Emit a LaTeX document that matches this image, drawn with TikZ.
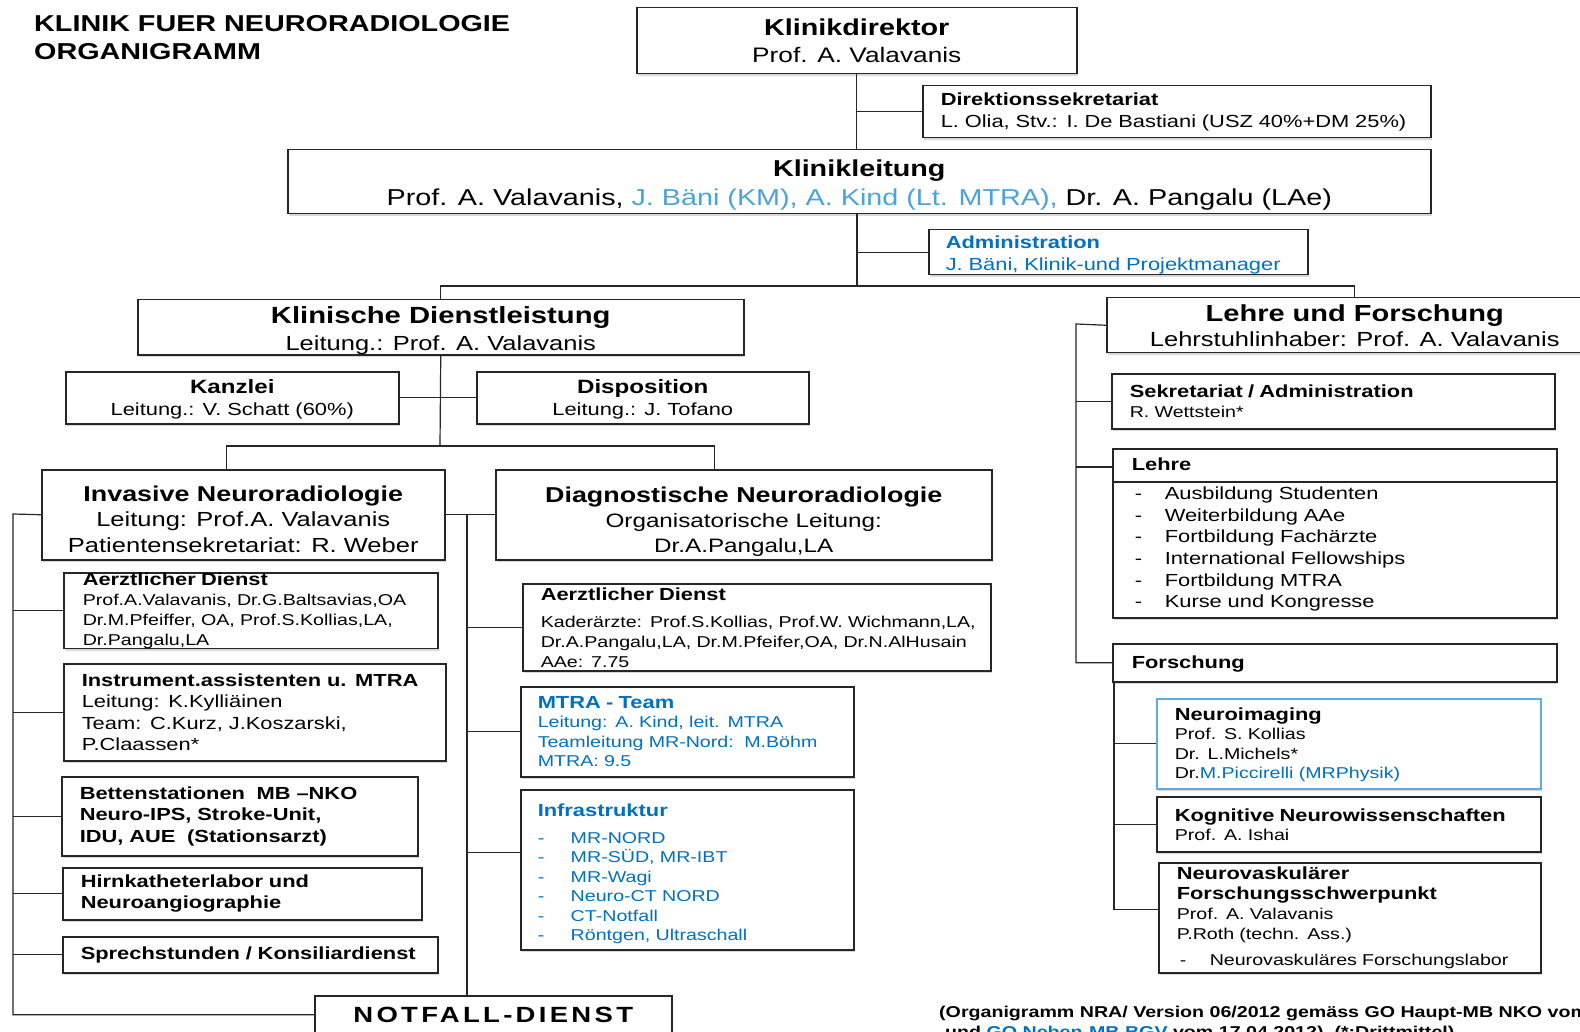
\documentclass[tikz,border=0pt]{standalone}
\usepackage{fontspec}
\setmainfont{Liberation Sans}[FakeStretch=1.25]
\usepackage{tikz}
\usetikzlibrary{calc}
\usetikzlibrary{positioning}
\usetikzlibrary{shadows}
\definecolor{lblue}{RGB}{74,163,217}
\definecolor{dblue}{RGB}{0,112,192}
\definecolor{iframe}{RGB}{96,172,222}
\definecolor{frame}{RGB}{38,38,38}
\newcommand{\dash}[1]{\makebox[#1][l]{-}}
\newcommand{\hstrut}[1]{\rule{0pt}{#1pt}}
\tikzstyle{box} = [rectangle, draw=frame, line width=1.5pt, fill=white, anchor=north west, inner sep=0pt, drop shadow={shadow xshift=1.5pt, shadow yshift=-2.5pt, opacity=0.3}]
\tikzstyle{cbox} = [box, align=center]
\tikzstyle{lbox} = [box, align=left]
\tikzstyle{line} = [line width=1.2pt, draw=black!85]
\tikzset{wh/.style 2 args={minimum width=#1pt, minimum height=#2pt}}

\begin{document}
\begin{tikzpicture}[x=1pt, y=-1pt]
\useasboundingbox (0,0) rectangle (1580,1032);
\clip (0,0) rectangle (1580,1032);
\fill[white] (0,0) rectangle (1580,1032);

\node (title) [anchor=base west, align=left, inner sep=0pt, font=\bfseries\fontsize{23}{28}\selectfont] at (34,60) {KLINIK FUER NEURORADIOLOGIE\\ORGANIGRAMM};

% Leitung
\node (kdir) [cbox, wh={440}{66}, font=\fontsize{21}{27}\selectfont] at (636,7) {{\bfseries\fontsize{23}{27}\selectfont Klinikdirektor}\\Prof. A. Valavanis};
\node (dsek) [lbox, wh={508}{52}, text width=472pt, font=\fontsize{17.5}{22}\selectfont] at (922,85) {{\bfseries Direktionssekretariat}\\\mbox{L. Olia, Stv.: I. De Bastiani (USZ 40\%+DM 25\%)}};
\node (kleit) [cbox, wh={1143}{64}, font=\fontsize{23}{29}\selectfont] at (287,149) {{\bfseries\hstrut{23}Klinikleitung}\\Prof. A. Valavanis, \textcolor{lblue}{J. Bäni (KM), A. Kind (Lt. MTRA),} Dr. A. Pangalu (LAe)};
\node (admin) [lbox, wh={379}{45}, text width=345pt, text=dblue, font=\fontsize{17.5}{22}\selectfont] at (928,229) {{\bfseries\hstrut{19}Administration}\\J. Bäni, Klinik-und Projektmanager};

\node (kd) [cbox, wh={606}{55}, font=\fontsize{20.4}{27}\selectfont] at (137,299) {{\bfseries\fontsize{23.4}{27}\selectfont\hstrut{24}Klinische Dienstleistung}\\Leitung.: Prof. A. Valavanis};
\node (luf) [cbox, wh={496}{55}, font=\fontsize{20.4}{25}\selectfont] at (1106,297) {{\bfseries\fontsize{23.2}{25}\selectfont Lehre und Forschung}\\Lehrstuhlinhaber: Prof. A. Valavanis};

% Klinische Dienstleistung
\node (kanz) [cbox, wh={333}{52}, font=\fontsize{17.5}{22}\selectfont] at (65,371) {{\bfseries\fontsize{19.3}{22}\selectfont\hstrut{18}Kanzlei}\\Leitung.: V. Schatt (60\%)};
\node (disp) [cbox, wh={332}{52}, font=\fontsize{17.5}{22}\selectfont] at (476,371) {{\bfseries\fontsize{19.3}{22}\selectfont\hstrut{18}Disposition}\\Leitung.: J. Tofano};
\node (inv) [cbox, wh={403}{90}, font=\fontsize{20.4}{25.5}\selectfont] at (41,469) {{\bfseries\fontsize{21.5}{25.5}\selectfont\hstrut{24}Invasive Neuroradiologie}\\Leitung: Prof.A. Valavanis\\Patientensekretariat: R. Weber};
\node (diag) [cbox, wh={496}{90}, font=\fontsize{19.4}{25}\selectfont] at (495,469) {{\bfseries\fontsize{21.5}{25}\selectfont\hstrut{29}Diagnostische Neuroradiologie}\\Organisatorische Leitung:\\Dr.A.Pangalu,LA};

\node (adL) [lbox, wh={374}{75}, text width=336pt, font=\fontsize{15.7}{20}\selectfont] at (63,572) {{\bfseries\fontsize{17.5}{20}\selectfont Aerztlicher Dienst}\\\mbox{Prof.A.Valavanis, Dr.G.Baltsavias,OA}\\\mbox{Dr.M.Pfeiffer, OA, Prof.S.Kollias,LA,}\\Dr.Pangalu,LA};
\node (instr) [lbox, wh={382}{97}, text width=346pt, font=\fontsize{17.5}{21.5}\selectfont] at (63,663) {{\bfseries Instrument.assistenten u. MTRA}\\Leitung: K.Kylliäinen\\Team: C.Kurz, J.Koszarski,\\P.Claassen*};
\node (bett) [lbox, wh={356}{79}, text width=320pt, font=\bfseries\fontsize{17.5}{21.5}\selectfont] at (61,776) {Bettenstationen\ \ MB –NKO\\Neuro-IPS, Stroke-Unit,\\IDU, AUE\ \ (Stationsarzt)};
\node (hirn) [lbox, wh={359}{52}, text width=323pt, font=\bfseries\fontsize{17.5}{21}\selectfont] at (62,867) {Hirnkatheterlabor und\\Neuroangiographie};
\node (sprech) [lbox, wh={375}{36}, text width=339pt, font=\bfseries\fontsize{17.5}{21}\selectfont] at (62,936) {Sprechstunden / Konsiliardienst};
\node (nf) [cbox, wh={357}{38}, font=\bfseries\fontsize{22}{24}\selectfont] at (314,995) {\addfontfeature{LetterSpace=15}NOTFALL-DIENST};

\node (adD) [lbox, wh={468}{87}, text width=432pt, font=\fontsize{15.7}{20}\selectfont] at (522,583) {{\bfseries\fontsize{17.5}{20}\selectfont Aerztlicher Dienst}\\[7pt]\mbox{Kaderärzte: Prof.S.Kollias, Prof.W. Wichmann,LA,}\\\mbox{Dr.A.Pangalu,LA, Dr.M.Pfeifer,OA, Dr.N.AlHusain}\\AAe: 7.75};
\node (mtra) [lbox, wh={333}{90}, text width=299pt, text=dblue, font=\fontsize{15.7}{19.5}\selectfont] at (520,686) {{\bfseries\fontsize{17.5}{19.5}\selectfont MTRA - Team}\\Leitung: A. Kind, leit. MTRA\\Teamleitung MR-Nord:\ \ M.Böhm\\MTRA: 9.5};
\node (infra) [lbox, wh={333}{160}, text width=299pt, text=dblue, font=\fontsize{15.7}{19.5}\selectfont] at (520,789) {{\bfseries\fontsize{17.5}{19.5}\selectfont\hstrut{21}Infrastruktur}\\[7pt]\dash{33pt}MR-NORD\\\dash{33pt}MR-SÜD, MR-IBT\\\dash{33pt}MR-Wagi\\\dash{33pt}Neuro-CT NORD\\\dash{33pt}CT-Notfall\\\dash{33pt}Röntgen, Ultraschall};

% Lehre und Forschung
\node (sek) [lbox, wh={443}{55}, text width=407pt, font=\fontsize{15.7}{20}\selectfont] at (1111,373) {{\bfseries\fontsize{17.5}{20}\selectfont Sekretariat / Administration}\\R. Wettstein*};
\node (lehre) [lbox, wh={444}{169}, text width=406pt, font=\fontsize{17.5}{21.6}\selectfont] at (1112,448) {{\bfseries\hstrut{15}Lehre}\\[8pt]\hspace*{3pt}\dash{30pt}Ausbildung Studenten\\\hspace*{3pt}\dash{30pt}Weiterbildung AAe\\\hspace*{3pt}\dash{30pt}Fortbildung Fachärzte\\\hspace*{3pt}\dash{30pt}International Fellowships\\\hspace*{3pt}\dash{30pt}Fortbildung MTRA\\\hspace*{3pt}\dash{30pt}Kurse und Kongresse};
\node (forsch) [lbox, wh={444}{38}, text width=406pt, font=\bfseries\fontsize{17.5}{21}\selectfont] at (1112,643) {\hstrut{15}Forschung};
\node (nimg) [lbox, draw=iframe, wh={384}{90}, text width=348pt, font=\fontsize{15.7}{19.5}\selectfont] at (1156,698) {{\bfseries\fontsize{17.5}{19.5}\selectfont\hstrut{15}Neuroimaging}\\Prof. S. Kollias\\Dr. L.Michels*\\Dr.\textcolor{dblue}{M.Piccirelli (MRPhysik)}};
\node (kogn) [lbox, wh={384}{55}, text width=348pt, font=\fontsize{15.7}{19}\selectfont] at (1156,796) {{\bfseries\fontsize{17.5}{19}\selectfont Kognitive Neurowissenschaften}\\Prof. A. Ishai};
\node (nvask) [lbox, wh={382}{110}, text width=346pt, font=\fontsize{15.7}{20}\selectfont] at (1158,862) {{\bfseries\fontsize{17.5}{20}\selectfont Neurovaskulärer}\\{\bfseries\fontsize{17.5}{20}\selectfont Forschungsschwerpunkt}\\Prof. A. Valavanis\\P.Roth (techn. Ass.)\\[6pt]\hspace*{3pt}\dash{30pt}Neurovaskuläres Forschungslabor};

\node (note) [anchor=base west, align=left, inner sep=0pt, font=\bfseries\fontsize{15.7}{20}\selectfont] at (939,1037) {(Organigramm NRA/ Version 06/2012 gemäss GO Haupt-MB NKO vom\\\hspace*{6pt}und \textcolor{dblue}{\underline{GO Neben-MB BGV}} vom 17.04.2012)\ \ (*:Drittmittel)};

\draw [line] ($(lehre.north west)+(0,34)$) -- ($(lehre.north east)+(0,34)$);

% connectors
\coordinate (bus1) at (857,286);
\coordinate (bus2) at (440,446);
\coordinate (invin) at ($(inv.north)+(-17,0)$);
\coordinate (diagin) at ($(diag.north)+(-29,0)$);
\coordinate (mbar) at (467,514);
\coordinate (lbar) at (13,514);
\coordinate (rbar) at (1076,324);
\coordinate (infrain) at ($(infra.west)+(0,-17)$);
\coordinate (lehrein) at ($(lehre.north west)+(0,19)$);
\coordinate (fbar) at ($(forsch.south west)+(2,0)$);
\coordinate (nvin) at ($(nvask.west)+(0,-8)$);

\draw [line] (kdir.south) -- (kdir.south |- kleit.north);
\draw [line] (dsek.west) -- (dsek.west -| kdir.south);
\draw [line] (kleit.south -| bus1) -- (bus1);
\draw [line] (admin.west) -- (admin.west -| bus1);
\draw [line] (kd.north) -- (kd.north |- bus1) -- (luf.north |- bus1) -- (luf.north);

\draw [line] (kd.south) -- (bus2);
\draw [line] (kanz.east) -- (disp.west);
\draw [line] (invin) -- (invin |- bus2) -- (diagin |- bus2) -- (diagin);
\draw [line] (inv.east) -- (diag.west);
\draw [line] (mbar) -- (mbar |- nf.north);
\draw [line] (adD.west) -- (adD.west -| mbar);
\draw [line] (mtra.west) -- (mtra.west -| mbar);
\draw [line] (infrain) -- (infrain -| mbar);

\draw [line] (inv.west) -- (lbar) |- (nf.west);
\draw [line] (adL.west) -- (adL.west -| lbar);
\draw [line] (instr.west) -- (instr.west -| lbar);
\draw [line] (bett.west) -- (bett.west -| lbar);
\draw [line] (hirn.west) -- (hirn.west -| lbar);
\draw [line] (sprech.west) -- (sprech.west -| lbar);

\draw [line] (luf.west) -- (rbar) |- (forsch.west);
\draw [line] (sek.west) -- (sek.west -| rbar);
\draw [line] (lehrein) -- (lehrein -| rbar);
\draw [line] (fbar) |- (nvin);
\draw [line] (nimg.west) -- (nimg.west -| fbar);
\draw [line] (kogn.west) -- (kogn.west -| fbar);
\end{tikzpicture}
\end{document}
